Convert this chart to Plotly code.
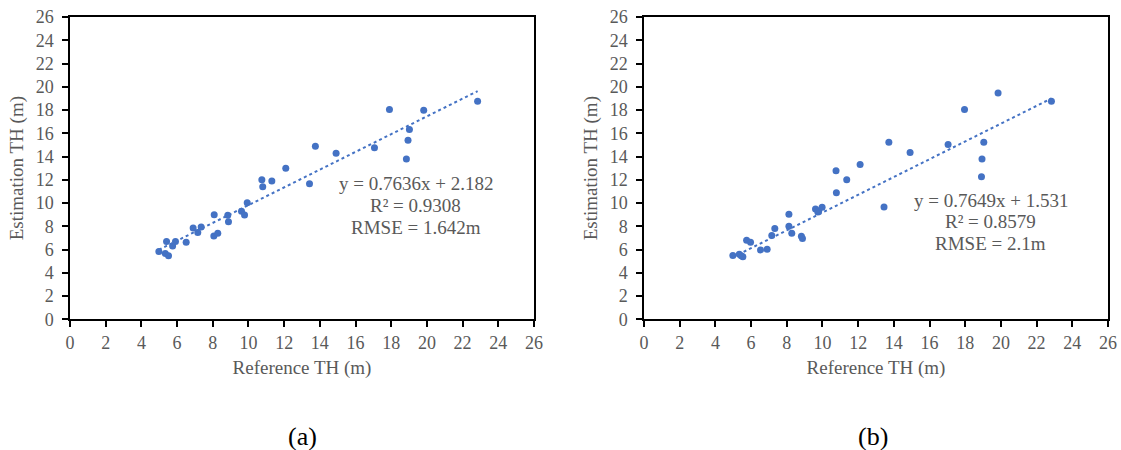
import plotly.graph_objects as go
import numpy as np

# Panel (a)
ref_a = [4.98, 5.34, 5.52, 5.41, 5.75, 5.91, 6.51, 6.90, 7.16, 7.35, 8.08, 8.06, 8.28,
         8.84, 8.88, 9.61, 9.78, 9.93, 10.75, 10.80, 11.31, 12.09, 13.42, 13.75, 14.91,
         17.06, 17.90, 19.82, 19.02, 18.94, 18.85, 22.84]
est_a = [5.83, 5.66, 5.46, 6.69, 6.31, 6.69, 6.63, 7.86, 7.46, 7.94, 9.00, 7.17, 7.40,
         8.94, 8.40, 9.29, 8.97, 10.03, 12.00, 11.40, 11.89, 13.00, 11.66, 14.89, 14.29,
         14.75, 18.04, 17.98, 16.32, 15.41, 13.78, 18.75]
slope_a, icpt_a = 0.7636, 2.182
text_a = ["y = 0.7636x + 2.182", "R² = 0.9308", "RMSE = 1.642m"]

# Panel (b)
ref_b = [4.98, 5.34, 5.45, 5.54, 5.75, 5.97, 6.53, 6.90, 7.16, 7.33, 8.12, 8.12, 8.28,
         8.82, 8.88, 9.61, 9.74, 9.79, 9.98, 10.76, 10.78, 11.36, 12.11, 13.45, 13.72,
         14.91, 17.04, 17.96, 19.84, 19.04, 18.94, 18.91, 22.83]
est_b = [5.49, 5.60, 5.46, 5.37, 6.80, 6.63, 5.97, 6.03, 7.20, 7.80, 9.03, 8.00, 7.40,
         7.14, 6.94, 9.49, 9.23, 9.31, 9.63, 12.77, 10.89, 12.00, 13.31, 9.65, 15.22,
         14.35, 15.03, 18.04, 19.47, 15.23, 13.78, 12.26, 18.75]
slope_b, icpt_b = 0.7649, 1.531
text_b = ["y = 0.7649x + 1.531", "R² = 0.8579", "RMSE = 2.1m"]

tick_vals = list(range(0, 27, 2))
x_title = "Reference TH (m)"
y_title = "Estimation TH (m)"
panel_labels = ["(a)", "(b)"]

BLUE = "#4472C4"
GRAY = "#595959"
FONT = "Liberation Serif"

W, H = 1121, 450

fig = go.Figure()

panels = [(ref_a, est_a, slope_a, icpt_a, text_a, "x", "y", 19.37, [11.69, 9.80, 7.92]),
          (ref_b, est_b, slope_b, icpt_b, text_b, "x2", "y2", 19.43, [10.23, 8.37, 6.51])]

for xs, ys, m, b, txt, xa, ya, tx, tys in panels:
    fig.add_trace(go.Scatter(x=xs, y=ys, mode="markers", xaxis=xa, yaxis=ya,
                             marker=dict(color=BLUE, size=7), showlegend=False))
    xl = np.array([min(xs), max(xs)])
    fig.add_trace(go.Scatter(x=xl, y=m * xl + b, mode="lines", xaxis=xa, yaxis=ya,
                             line=dict(color=BLUE, width=2, dash="dot"), showlegend=False))
    for line, ty in zip(txt, tys):
        fig.add_annotation(x=tx, y=ty, xref=xa, yref=ya, text=line,
                           showarrow=False, xanchor="center", yanchor="middle",
                           font=dict(family=FONT, size=19, color=GRAY))

axis_common = dict(range=[0, 26], tickvals=tick_vals, ticks="outside", ticklen=6,
                   tickwidth=1.5, tickcolor="black", showline=True, linecolor="black",
                   linewidth=1.5, mirror=True, showgrid=False, zeroline=False,
                   automargin=False, ticklabeloverflow="allow",
                   tickfont=dict(family=FONT, size=18, color=GRAY))
title_font = dict(family=FONT, size=19, color=GRAY)

xdom_a = [70 / W, 534 / W]
xdom_b = [644 / W, 1108 / W]
ydom = [(H - 319.3) / H, (H - 17) / H]

fig.update_layout(
    width=W, height=H, margin=dict(l=0, r=0, t=0, b=0),
    paper_bgcolor="white", plot_bgcolor="white",
    xaxis=dict(domain=xdom_a, anchor="y", **axis_common,
               title=dict(text=x_title, font=title_font, standoff=9)),
    yaxis=dict(domain=ydom, anchor="x", **axis_common, ticklabelstandoff=5,
               title=dict(text=y_title, font=title_font, standoff=7)),
    xaxis2=dict(domain=xdom_b, anchor="y2", **axis_common,
                title=dict(text=x_title, font=title_font, standoff=9)),
    yaxis2=dict(domain=ydom, anchor="x2", **axis_common, ticklabelstandoff=5,
                title=dict(text=y_title, font=title_font, standoff=7)),
)

for lbl, xc in zip(panel_labels, [302 / W, 873 / W]):
    fig.add_annotation(x=xc, y=(H - 436) / H, xref="paper", yref="paper", text=lbl,
                       showarrow=False, xanchor="center", yanchor="middle",
                       font=dict(family=FONT, size=26, color="black"))

fig.write_html("out.html",
               config={"displayModeBar": False},
               post_script="document.body.style.margin='0';document.body.style.overflow='hidden';")
